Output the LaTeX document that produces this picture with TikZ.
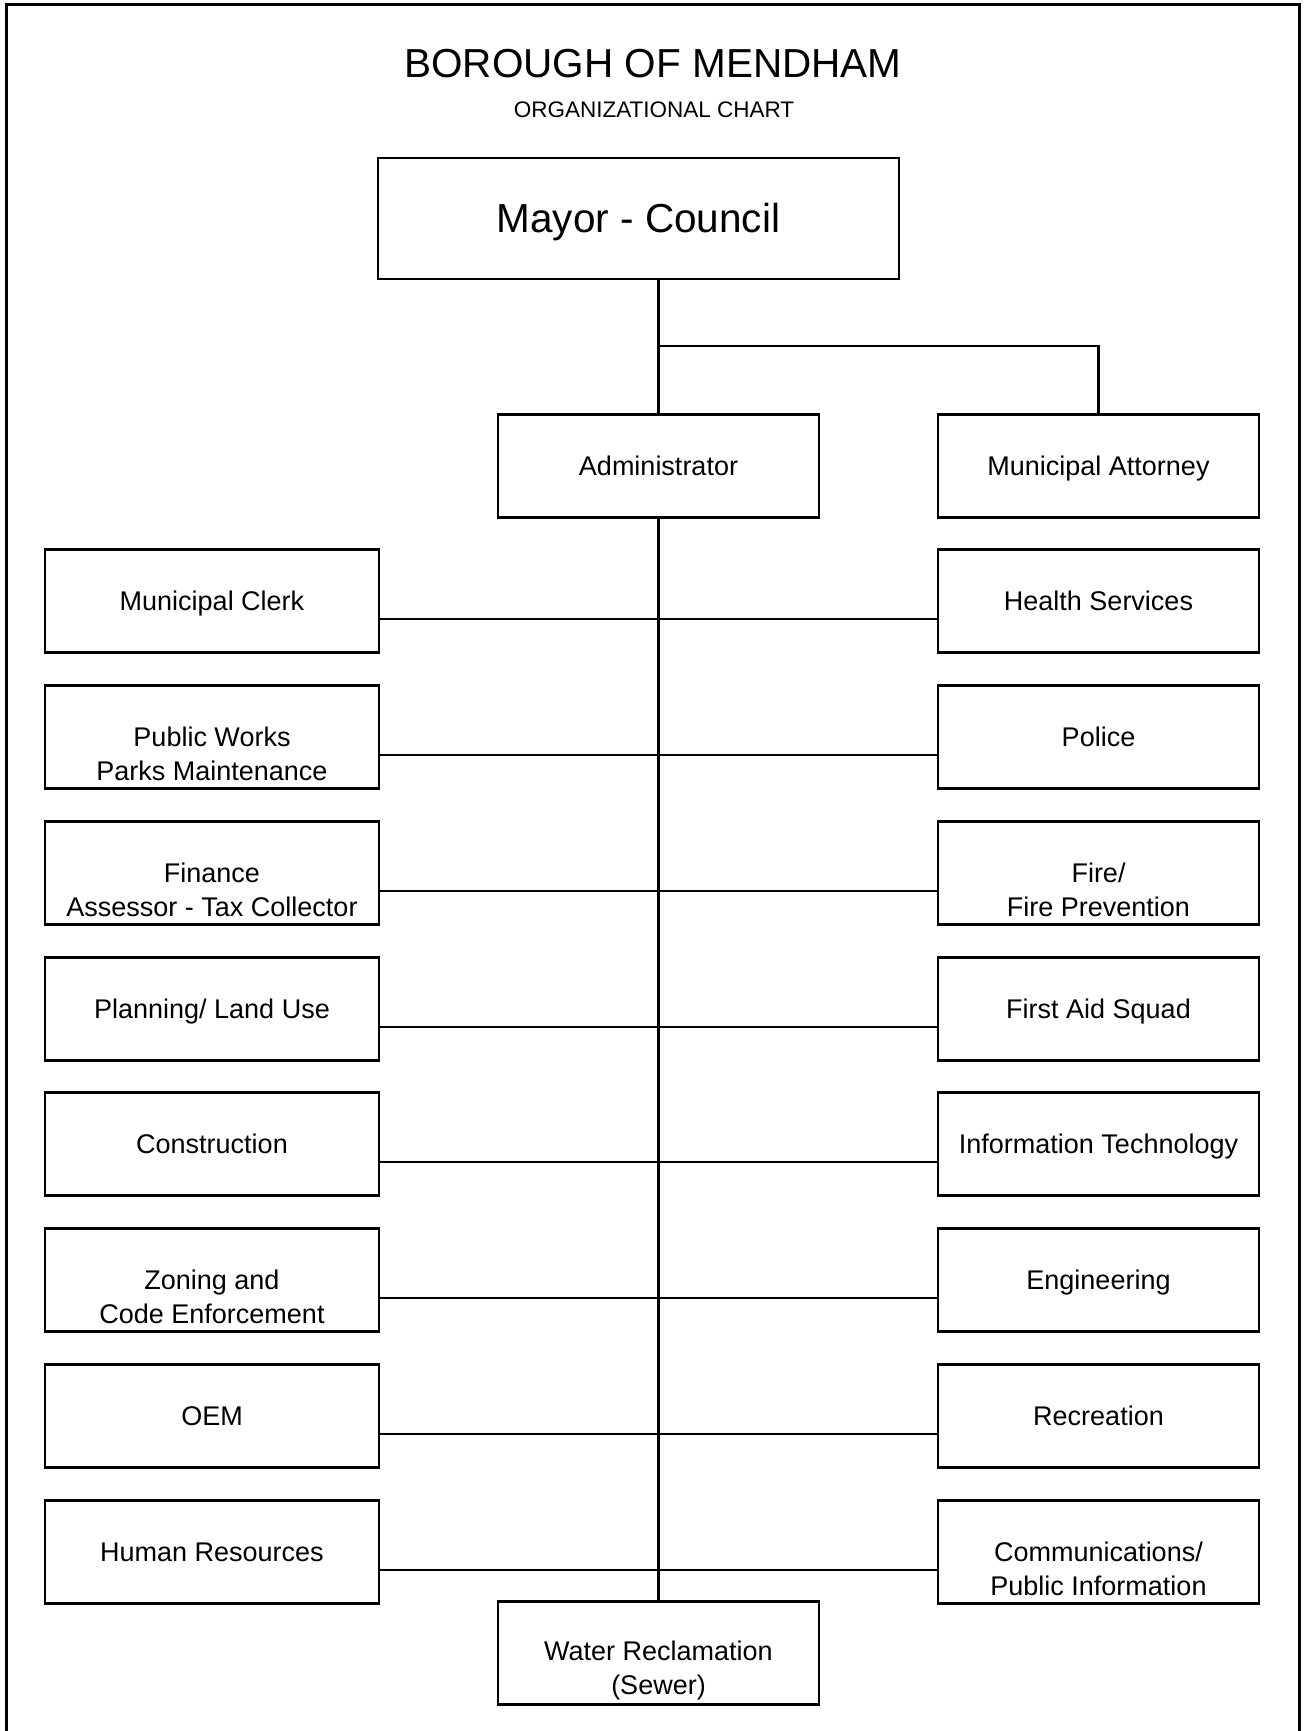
\documentclass[tikz,border=0pt]{standalone}
\usepackage{fontspec}
\setmainfont{Liberation Sans}
\usepackage{tikz}

\tikzset{
    unit/.style={draw, line width=2.8pt, minimum height=103pt, inner sep=0pt,
        font=\fontsize{27}{34}\selectfont, text height=19.3pt, text depth=0pt},
    lunit/.style={unit, minimum width=334pt},
    runit/.style={unit, minimum width=321pt},
    txt/.style={font=\fontsize{27}{34}\selectfont, align=center, inner sep=0pt},
    link/.style={line width=2.6pt}
}

\begin{document}
\begin{tikzpicture}[x=1pt, y=-1pt]
    \useasboundingbox (0,0) rectangle (1306,1731);

    % Frame, open at the bottom
    \draw[line width=3pt] (6,1731) -- (6,5) -- (1299,5) -- (1299,1731);

    % Title
    \node[font=\fontsize{40.5}{48}\selectfont] (title) at (653,64) {BOROUGH OF MENDHAM};
    \node[font=\fontsize{22.5}{27}\selectfont] (subtitle) at (654,110) {ORGANIZATIONAL CHART};

    % Top of the chart
    \node[draw, line width=2.8pt, minimum width=521pt, minimum height=121pt,
        font=\fontsize{40.5}{48}\selectfont, text height=29pt, text depth=0pt]
        (mayor) at (638.5,218.5) {Mayor - Council};
    \node[runit] (admin) at (658.5,466) {Administrator};
    \node[runit] (attorney) at (1098.5,466) {Municipal Attorney};

    % Left column
    \node[lunit] (clerk) at (212,601) {Municipal Clerk};
    \node[lunit] (works) at (212,737) {};
    \node[txt, yshift=-17pt] at (works) {Public Works\\Parks Maintenance};
    \node[lunit] (finance) at (212,873) {};
    \node[txt, yshift=-17pt] at (finance) {Finance\\Assessor - Tax Collector};
    \node[lunit] (planning) at (212,1009) {Planning/ Land Use};
    \node[lunit] (construction) at (212,1144) {Construction};
    \node[lunit] (zoning) at (212,1280) {};
    \node[txt, yshift=-17pt] at (zoning) {Zoning and\\Code Enforcement};
    \node[lunit] (oem) at (212,1416) {OEM};
    \node[lunit] (hr) at (212,1552) {Human Resources};

    % Right column
    \node[runit] (health) at (1098.5,601) {Health Services};
    \node[runit] (police) at (1098.5,737) {Police};
    \node[runit] (fire) at (1098.5,873) {};
    \node[txt, yshift=-17pt] at (fire) {Fire/\\Fire Prevention};
    \node[runit] (firstaid) at (1098.5,1009) {First Aid Squad};
    \node[runit] (it) at (1098.5,1144) {Information Technology};
    \node[runit] (engineering) at (1098.5,1280) {Engineering};
    \node[runit] (recreation) at (1098.5,1416) {Recreation};
    \node[runit] (comms) at (1098.5,1552) {};
    \node[txt, yshift=-17pt] at (comms) {Communications/\\Public Information};

    % Bottom box
    \node[runit] (water) at (658.5,1653) {};
    \node[txt, yshift=-17pt] at (water) {Water Reclamation\\(Sewer)};

    % Lines from the council
    \draw[link] (admin.north) -- (admin.north |- mayor.south);
    \coordinate (split) at ([yshift=67pt]admin.north);
    \draw[link] (split) -| (attorney.north);

    % Spine and rungs
    \draw[link] (admin.south) -- (water.north);
    \draw[link] ([yshift=-18pt]clerk.east) -- ([yshift=-18pt]health.west);
    \draw[link] ([yshift=-18pt]works.east) -- ([yshift=-18pt]police.west);
    \draw[link] ([yshift=-18pt]finance.east) -- ([yshift=-18pt]fire.west);
    \draw[link] ([yshift=-18pt]planning.east) -- ([yshift=-18pt]firstaid.west);
    \draw[link] ([yshift=-18pt]construction.east) -- ([yshift=-18pt]it.west);
    \draw[link] ([yshift=-18pt]zoning.east) -- ([yshift=-18pt]engineering.west);
    \draw[link] ([yshift=-18pt]oem.east) -- ([yshift=-18pt]recreation.west);
    \draw[link] ([yshift=-18pt]hr.east) -- ([yshift=-18pt]comms.west);
\end{tikzpicture}
\end{document}
